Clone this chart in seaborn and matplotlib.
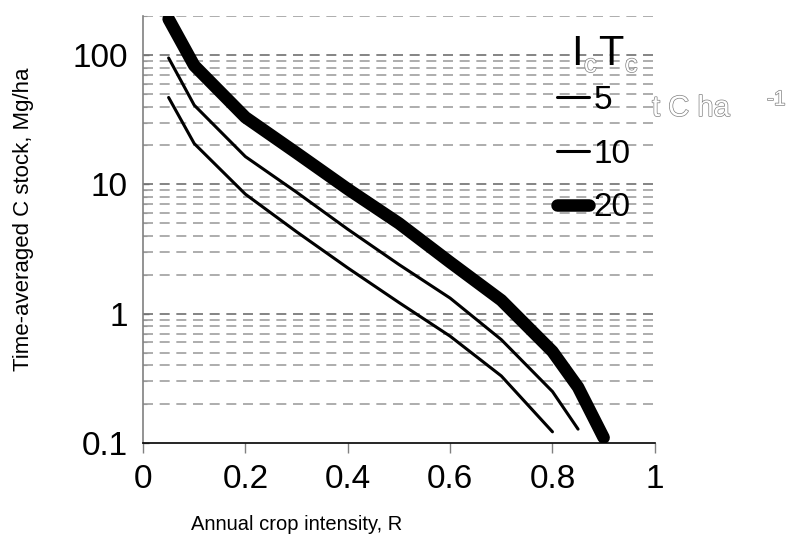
import numpy as np
import pandas as pd
import matplotlib
matplotlib.use("Agg")
import matplotlib.pyplot as plt
import matplotlib.patheffects as pe
from matplotlib.lines import Line2D
from matplotlib.ticker import FixedLocator, NullFormatter
import seaborn as sns

# Data
R5 = [0.05, 0.1, 0.2, 0.3, 0.4, 0.5, 0.6, 0.7, 0.8]
C5 = [47, 20.7, 8.4, 4.3, 2.26, 1.22, 0.67, 0.33, 0.122]
R10 = [0.05, 0.1, 0.2, 0.3, 0.4, 0.5, 0.6, 0.7, 0.8, 0.85]
C10 = [95, 41, 16.4, 8.7, 4.5, 2.4, 1.32, 0.63, 0.25, 0.128]
R20 = [0.05, 0.1, 0.2, 0.3, 0.4, 0.5, 0.6, 0.7, 0.8, 0.85, 0.9]
C20 = [190, 83, 33, 17.5, 9.2, 5.0, 2.5, 1.27, 0.51, 0.27, 0.11]
levels = [5, 10, 20]
legend_labels = ["5", "10", "20"]
x_ticks = [0, 0.2, 0.4, 0.6, 0.8, 1]
x_ticklabels = ["0", "0.2", "0.4", "0.6", "0.8", "1"]
y_ticks = [0.1, 1, 10, 100]
y_ticklabels = ["0.1", "1", "10", "100"]

df = pd.concat([
    pd.DataFrame({"R": R5, "C": C5, "IcTc": 5}),
    pd.DataFrame({"R": R10, "C": C10, "IcTc": 10}),
    pd.DataFrame({"R": R20, "C": C20, "IcTc": 20}),
])

sns.set_theme(style="white")
plt.rcParams["font.family"] = ["Liberation Sans", "DejaVu Sans"]
plt.rcParams["text.color"] = "black"
plt.rcParams["axes.labelcolor"] = "black"
plt.rcParams["xtick.labelcolor"] = "black"
plt.rcParams["ytick.labelcolor"] = "black"

fig = plt.figure(figsize=(7.88, 5.38), dpi=100)
ax = fig.add_axes([0.1815, 0.1766, 0.831 - 0.1815, 0.970 - 0.1766])

widths = {5: 2.2, 10: 2.2, 20: 9.0}
sns.lineplot(data=df, x="R", y="C", hue="IcTc", size="IcTc",
             palette={5: "black", 10: "black", 20: "black"},
             sizes=widths, legend=False, ax=ax, sort=False, zorder=3)
for ln in ax.get_lines():
    ln.set_solid_capstyle("round")
    ln.set_solid_joinstyle("round")

ax.set_yscale("log")
ax.set_xlim(0, 1)
ax.set_ylim(0.1, 200)

# grid lines: all major and minor positions (dashed gray)
grid_vals = []
for dec in [0.1, 1, 10, 100]:
    for m in range(1, 10):
        v = dec * m
        if 0.1 < v <= 200:
            grid_vals.append(v)
for v in grid_vals:
    col = "#707070" if v in (1, 10, 100) else "#a0a0a0"
    ax.axhline(v, color=col, lw=1.2, ls=(0, (6, 4)), zorder=1)

ax.set_xticks(x_ticks)
ax.set_xticklabels(x_ticklabels, fontsize=24, color="black")
ax.set_yticks(y_ticks)
ax.set_yticklabels(y_ticklabels, fontsize=24, color="black")
ax.yaxis.set_minor_locator(FixedLocator([v for v in grid_vals if v not in (1, 10, 100)]))
ax.yaxis.set_minor_formatter(NullFormatter())
ax.tick_params(axis="x", direction="out", length=7, width=1, color="#808080", pad=8, bottom=True)
ax.tick_params(axis="y", which="major", direction="in", length=4, width=1, color="#808080", pad=11, left=True)
ax.tick_params(axis="y", which="minor", direction="in", length=3, width=0.8, color="#808080", left=True)

for s in ["top", "right"]:
    ax.spines[s].set_visible(False)
ax.spines["bottom"].set_color("black")
ax.spines["bottom"].set_linewidth(1.2)
ax.spines["left"].set_color("#808080")
ax.spines["left"].set_linewidth(1.2)

ax.set_xlabel("Annual crop intensity, R", fontsize=14.5, color="black")
ax.set_ylabel("Time-averaged C stock, Mg/ha", fontsize=16, color="black")
ax.xaxis.set_label_coords((297 - 143) / 512, -(525 - 443) / 427)
ax.xaxis.label.set_va("center")
ax.yaxis.set_label_coords(-(143 - 23) / 512, (443 - 219) / 427)
ax.yaxis.label.set_va("center")

# legend
handles = [Line2D([0], [0], color="black", lw=widths[k], solid_capstyle="round") for k in levels]
leg = ax.legend(handles, legend_labels, loc="upper left",
                bbox_to_anchor=(557 / 788, 1 - 85 / 538), bbox_transform=fig.transFigure,
                frameon=False, fontsize=24, handlelength=0.95, handletextpad=0.15,
                labelspacing=0.68, borderaxespad=0, borderpad=0)
for t in leg.get_texts():
    t.set_color("black")

def hollow_text(x, y, s, size):
    fig.text(x / 788, 1 - y / 538, s, fontsize=size, color="white",
             path_effects=[pe.Stroke(linewidth=1.0, foreground="#808080"), pe.Normal()],
             va="baseline", ha="left")

# legend title I_c T_c
fig.text(571 / 788, 1 - 65 / 538, "I", fontsize=30, color="black", va="baseline", ha="left")
hollow_text(584, 72, "c", 18)
fig.text(598 / 788, 1 - 65 / 538, "T", fontsize=30, color="black", va="baseline", ha="left")
hollow_text(625, 72, "c", 18)
# unit
hollow_text(652, 116, "t C ha", 21)
hollow_text(767, 105, "-1", 15)

fig.savefig("out.png", dpi=100)
